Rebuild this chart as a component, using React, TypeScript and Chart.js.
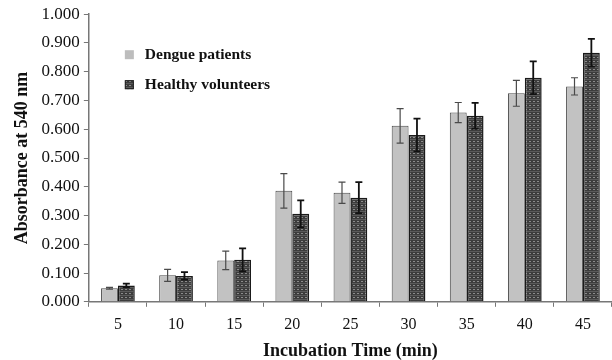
import React, { useEffect, useRef } from "react";
import { Chart, registerables } from "chart.js";

Chart.register(...registerables);

const categories = ["5", "10", "15", "20", "25", "30", "35", "40", "45"];
const dengueValues = [0.047, 0.092, 0.144, 0.386, 0.379, 0.612, 0.658, 0.725, 0.749];
const dengueErrors = [0.003, 0.021, 0.032, 0.06, 0.037, 0.06, 0.035, 0.045, 0.03];
const healthyValues = [0.057, 0.09, 0.146, 0.306, 0.362, 0.58, 0.647, 0.779, 0.866];
const healthyErrors = [0.006, 0.013, 0.04, 0.047, 0.054, 0.057, 0.045, 0.057, 0.048];
const seriesNames = ["Dengue patients", "Healthy volunteers"];
const yAxisTitle = "Absorbance at 540 nm";
const xAxisTitle = "Incubation Time (min)";

const SERIF = '"Liberation Serif", "Times New Roman", serif';

function makePattern(): CanvasPattern | string {
  const c = document.createElement("canvas");
  c.width = 4;
  c.height = 4;
  const g = c.getContext("2d");
  if (!g) return "#444";
  g.fillStyle = "#3c3c3c";
  g.fillRect(0, 0, 4, 4);
  g.fillStyle = "#8c8c8c";
  g.fillRect(1, 1, 2, 1);
  g.fillStyle = "#5a5a5a";
  g.fillRect(0, 3, 4, 1);
  const ctx = document.createElement("canvas").getContext("2d");
  const p = ctx ? ctx.createPattern(c, "repeat") : null;
  return p || "#444";
}

export default function App() {
  const ref = useRef<HTMLCanvasElement | null>(null);

  useEffect(() => {
    document.body.style.margin = "0";
    const canvas = ref.current;
    if (!canvas) return;
    const pattern = makePattern();
    const errs = [dengueErrors, healthyErrors];

    const errorBars = {
      id: "errorBars",
      afterDatasetsDraw(chart: any) {
        const ctx = chart.ctx;
        const y = chart.scales.y;
        chart.data.datasets.forEach((ds: any, i: number) => {
          const meta = chart.getDatasetMeta(i);
          meta.data.forEach((bar: any, j: number) => {
            const v = ds.data[j];
            const e = errs[i][j];
            const yt = y.getPixelForValue(v + e);
            const yb = y.getPixelForValue(v - e);
            const x = bar.x;
            ctx.save();
            ctx.strokeStyle = i === 0 ? "#4a4a4a" : "#111";
            ctx.lineWidth = i === 0 ? 1.2 : 1.8;
            ctx.beginPath();
            ctx.moveTo(x, yt);
            ctx.lineTo(x, yb);
            ctx.moveTo(x - 3.5, yt);
            ctx.lineTo(x + 3.5, yt);
            ctx.moveTo(x - 3.5, yb);
            ctx.lineTo(x + 3.5, yb);
            ctx.stroke();
            ctx.restore();
          });
        });
      },
    };

    const legendPlugin = {
      id: "innerLegend",
      afterDraw(chart: any) {
        const ctx = chart.ctx;
        const a = chart.chartArea;
        const x0 = a.left + 36;
        const rows = [a.top + 41, a.top + 71];
        ctx.save();
        rows.forEach((yy, i) => {
          ctx.fillStyle = i === 0 ? "#bdbdbd" : (pattern as any);
          ctx.fillRect(x0, yy - 5, 9, 9);
          if (i === 1) {
            ctx.strokeStyle = "#222";
            ctx.lineWidth = 1;
            ctx.strokeRect(x0 + 0.5, yy - 4.5, 8, 8);
          }
          ctx.fillStyle = "#111";
          ctx.font = `bold 15.5px ${SERIF}`;
          ctx.textBaseline = "middle";
          ctx.textAlign = "left";
          ctx.fillText(seriesNames[i], x0 + 20, yy);
        });
        ctx.restore();
      },
    };

    const chart = new Chart(canvas, {
      type: "bar",
      data: {
        labels: categories,
        datasets: [
          {
            label: seriesNames[0],
            data: dengueValues,
            backgroundColor: "#c2c2c2",
            borderColor: "#4a4a4a",
            borderWidth: 1,
          },
          {
            label: seriesNames[1],
            data: healthyValues,
            backgroundColor: pattern as any,
            borderColor: "#1a1a1a",
            borderWidth: 1.5,
          },
        ],
      },
      options: {
        animation: false,
        responsive: false,
        maintainAspectRatio: false,
        layout: { padding: { left: 12, right: -2, top: 12, bottom: 0 } },
        datasets: { bar: { categoryPercentage: 0.58, barPercentage: 1 } },
        plugins: {
          legend: { display: false },
          tooltip: { enabled: false },
        },
        scales: {
          x: {
            grid: {
              display: true,
              drawOnChartArea: false,
              tickLength: 5,
              color: "#777",
            },
            border: { color: "#777", width: 1.5 },
            ticks: { color: "#111", font: { family: SERIF, size: 16 }, padding: 8 },
            title: {
              display: true,
              text: xAxisTitle,
              color: "#111",
              font: { family: SERIF, size: 18, weight: "bold", lineHeight: 1.0 },
              padding: { top: 0, bottom: 0 },
            },
          },
          y: {
            min: 0,
            max: 1,
            grid: {
              display: true,
              drawOnChartArea: false,
              tickLength: 5,
              color: "#777",
            },
            border: { color: "#777", width: 1.5 },
            ticks: {
              stepSize: 0.1,
              color: "#111",
              font: { family: SERIF, size: 17 },
              padding: 4,
              callback: (v: any) => Number(v).toFixed(3),
            },
            title: {
              display: true,
              text: yAxisTitle,
              color: "#111",
              font: { family: SERIF, size: 18, weight: "bold" },
              padding: { top: 0, bottom: 4 },
            },
          },
        },
      },
      plugins: [errorBars, legendPlugin],
    });
    return () => chart.destroy();
  }, []);

  return (
    <div style={{ width: 612, height: 360, background: "#fff" }}>
      <canvas ref={ref} width={612} height={360} style={{ width: 612, height: 360, display: "block" }} />
    </div>
  );
}
